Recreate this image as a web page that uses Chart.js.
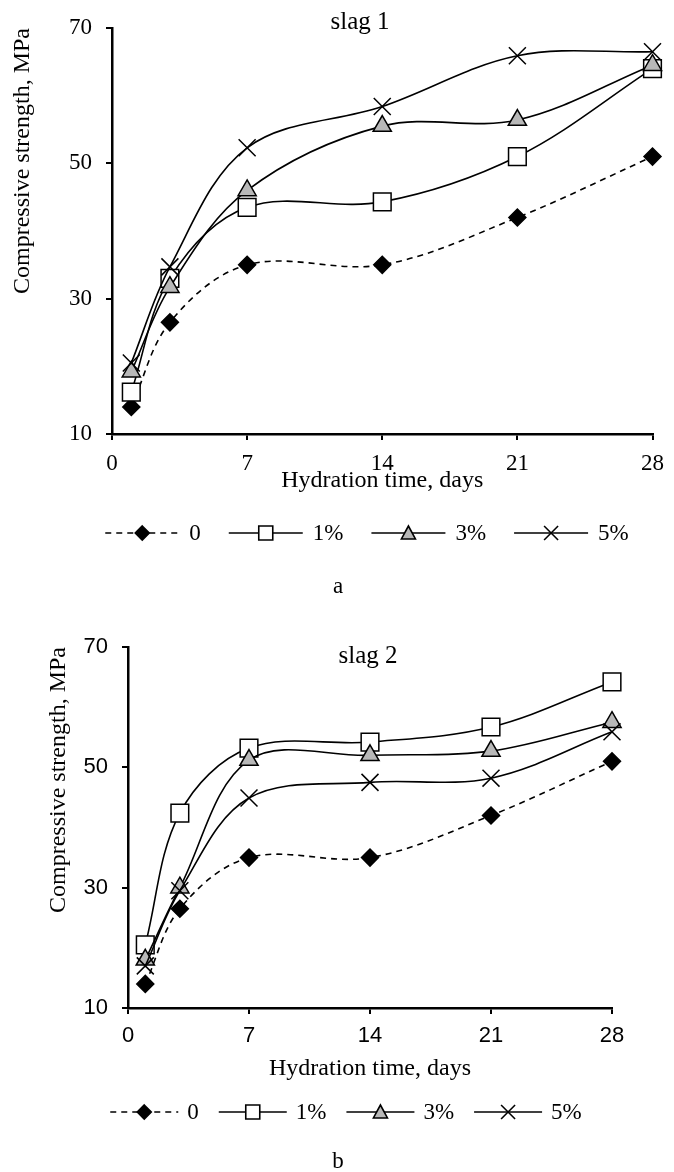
<!DOCTYPE html>
<html>
<head>
<meta charset="utf-8">
<script src="https://cdn.jsdelivr.net/npm/chart.js@4.4.1/dist/chart.umd.min.js"></script>
<style>
  body { margin: 0; background: #fff; width: 674px; height: 1172px; position: relative; overflow: hidden; }
  canvas { position: absolute; left: 0; }
</style>
</head>
<body>
<canvas id="chartA" width="674" height="610" style="top:0"></canvas>
<canvas id="chartB" width="674" height="562" style="top:610px"></canvas>
<script>
// hydration time (days) and tick labels
const days = [1, 3, 7, 14, 21, 28];
const xTicks = [0, 7, 14, 21, 28];
const yTicks = [10, 30, 50, 70];
const seriesNames = ['0', '1%', '3%', '5%'];

// slag 1 (a)
const slag1_0 = [14, 26.5, 35, 35, 42, 51];
const slag1_1 = [16.2, 33, 43.5, 44.3, 51, 64];
const slag1_3 = [19.2, 31.7, 46, 55.5, 56.4, 64.5];
const slag1_5 = [20.5, 34.7, 52.3, 58.4, 65.9, 66.5];

// slag 2 (b)
const slag2_0 = [14, 26.5, 35, 35, 42, 51];
const slag2_1 = [20.5, 42.4, 53.2, 54.2, 56.7, 64.2];
const slag2_3 = [18, 30, 51.2, 52, 52.7, 57.5];
const slag2_5 = [17, 29.5, 44.9, 47.5, 48.2, 55.9];

// marker look per series (same order as seriesNames)
const looks = [
  { shape: 'rectRot', radius: 8.5, fill: '#000', dash: [6, 5] },
  { shape: 'rect', radius: 12.5, fill: '#fff', dash: [] },
  { shape: 'triangle', radius: 10.5, fill: '#b8b8b8', dash: [] },
  { shape: 'crossRot', radius: 12, fill: '#000', dash: [] }
];

const SERIF = '"Liberation Serif", "Times New Roman", serif';
const SANS = '"Liberation Sans", Arial, sans-serif';

function drawMarker(ctx, shape, x, y, s, fill) {
  ctx.beginPath();
  if (shape === 'rectRot') {
    ctx.moveTo(x, y - s); ctx.lineTo(x + s, y); ctx.lineTo(x, y + s); ctx.lineTo(x - s, y); ctx.closePath();
  } else if (shape === 'rect') {
    ctx.rect(x - s, y - s, 2 * s, 2 * s);
  } else if (shape === 'triangle') {
    ctx.moveTo(x, y - s); ctx.lineTo(x + s, y + s * 0.85); ctx.lineTo(x - s, y + s * 0.85); ctx.closePath();
  } else {
    ctx.moveTo(x - s, y - s); ctx.lineTo(x + s, y + s);
    ctx.moveTo(x + s, y - s); ctx.lineTo(x - s, y + s);
  }
  if (shape !== 'crossRot') {
    ctx.fillStyle = fill;
    ctx.fill();
  }
  ctx.stroke();
}

const decor = {
  id: 'decor',
  afterDraw(chart, args, o) {
    const ctx = chart.ctx;
    ctx.save();
    ctx.fillStyle = '#000';
    ctx.textAlign = 'center';
    ctx.textBaseline = 'alphabetic';
    ctx.font = '25px ' + SERIF;
    ctx.fillText(o.title, o.titleX, o.titleY);
    ctx.font = '23px ' + SERIF;
    ctx.fillText(o.caption, 338, o.captionY);

    // legend: line + marker + label
    ctx.font = '23px ' + SERIF;
    const widths = seriesNames.map(n => ctx.measureText(n).width);
    let total = 0;
    widths.forEach(w => { total += o.lineLen + o.gap + w; });
    total += o.itemGap * (seriesNames.length - 1);
    let x = o.legendX - total / 2;
    const y = o.legendY;
    ctx.textAlign = 'left';
    ctx.textBaseline = 'middle';
    ctx.strokeStyle = '#000';
    seriesNames.forEach((name, i) => {
      const lk = looks[i];
      ctx.lineWidth = 1.6;
      ctx.setLineDash(lk.dash);
      ctx.beginPath();
      ctx.moveTo(x, y);
      ctx.lineTo(x + o.lineLen, y);
      ctx.stroke();
      ctx.setLineDash([]);
      drawMarker(ctx, lk.shape, x + o.lineLen / 2, y, 7, lk.fill);
      ctx.fillStyle = '#000';
      ctx.fillText(name, x + o.lineLen + o.gap, y + 1);
      x += o.lineLen + o.gap + widths[i] + o.itemGap;
    });
    ctx.restore();
  }
};

function makeDatasets(series) {
  return series.map((vals, i) => ({
    label: seriesNames[i],
    data: days.map((d, k) => ({ x: d, y: vals[k] })),
    borderColor: '#000',
    borderWidth: 1.6,
    borderDash: looks[i].dash,
    backgroundColor: looks[i].fill,
    pointStyle: looks[i].shape,
    pointRadius: looks[i].radius,
    pointBackgroundColor: looks[i].fill,
    pointBorderColor: '#000',
    pointBorderWidth: 1.5,
    tension: 0.35,
    clip: false,
    order: series.length - i
  }));
}

function makeChart(id, series, p) {
  return new Chart(document.getElementById(id), {
    type: 'line',
    data: { datasets: makeDatasets(series) },
    plugins: [decor],
    options: {
      responsive: false,
      animation: false,
      layout: { padding: { top: p.top, right: p.right, left: 0, bottom: 0 } },
      scales: {
        x: {
          type: 'linear', min: 0, max: 28,
          afterBuildTicks: s => { s.ticks = xTicks.map(v => ({ value: v })); },
          afterFit: s => { s.height = p.xHeight; },
          border: { color: '#000', width: 2.5 },
          grid: { drawOnChartArea: false, color: '#000', lineWidth: 2, tickLength: 6 },
          ticks: { color: '#000', padding: p.xPad, maxRotation: 0, font: { family: p.tickFont, size: p.tickSize } },
          title: { display: true, text: 'Hydration time, days', color: '#000',
                   font: { family: SERIF, size: 24 }, padding: { top: 0, bottom: p.xTitlePad } }
        },
        y: {
          min: 10, max: 70,
          afterBuildTicks: s => { s.ticks = yTicks.map(v => ({ value: v })); },
          afterFit: s => { s.width = p.yWidth; },
          border: { color: '#000', width: 2.5 },
          grid: { drawOnChartArea: false, color: '#000', lineWidth: 2, tickLength: 6 },
          ticks: { color: '#000', padding: 14, font: { family: p.tickFont, size: p.tickSize } },
          title: { display: true, text: 'Compressive strength, MPa', color: '#000', align: 'end',
                   font: { family: SERIF, size: 24 }, padding: { top: p.yTitlePad, bottom: 0 } }
        }
      },
      plugins: {
        legend: { display: false },
        tooltip: { enabled: false },
        decor: p.decor
      }
    }
  });
}

makeChart('chartA', [slag1_0, slag1_1, slag1_3, slag1_5], {
  top: 28, right: 12, yWidth: 112, xHeight: 176, xPad: 10, xTitlePad: 115, yTitlePad: 8,
  tickFont: SERIF, tickSize: 23,
  decor: { title: 'slag 1', titleX: 360, titleY: 29, caption: 'a', captionY: 593,
           legendX: 367, legendY: 533, lineLen: 74, gap: 10, itemGap: 28 }
});

makeChart('chartB', [slag2_0, slag2_1, slag2_3, slag2_5], {
  top: 37, right: 62, yWidth: 128, xHeight: 164, xPad: 9, xTitlePad: 89, yTitlePad: 44,
  tickFont: SANS, tickSize: 22,
  decor: { title: 'slag 2', titleX: 368, titleY: 53, caption: 'b', captionY: 558,
           legendX: 346, legendY: 502, lineLen: 68, gap: 9, itemGap: 20 }
});
</script>
</body>
</html>
